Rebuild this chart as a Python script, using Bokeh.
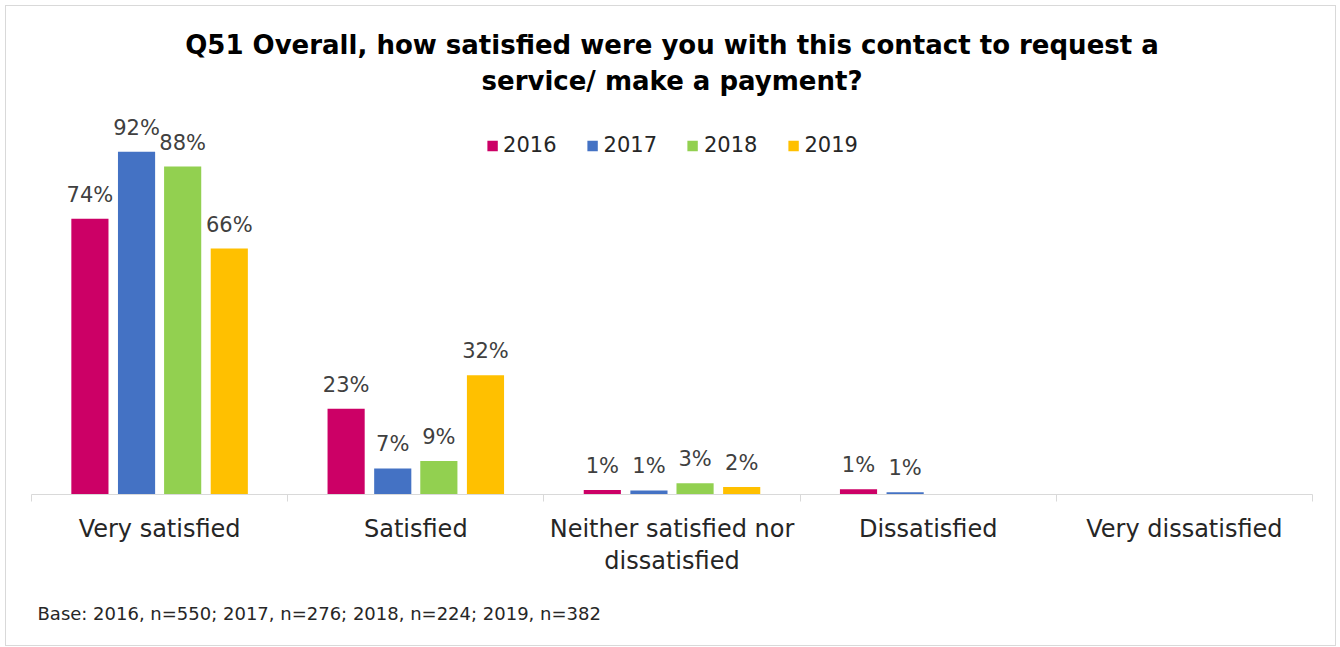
from bokeh.plotting import figure
from bokeh.models import (ColumnDataSource, Range1d, LinearAxis, FixedTicker, Legend,
                          LegendItem, Title, LabelSet)
from bokeh.transform import dodge
from bokeh.core.properties import value
from bokeh.embed import file_html
from bokeh.resources import INLINE

# ---- data ----
categories = ["Very satisfied", "Satisfied", "Neither satisfied nor dissatisfied",
              "Dissatisfied", "Very dissatisfied"]
category_labels = ["Very satisfied", "Satisfied", "Neither satisfied nor\ndissatisfied",
                   "Dissatisfied", "Very dissatisfied"]
years = ["2016", "2017", "2018", "2019"]
v2016 = [74, 23, 1.2, 1.4, 0]
v2017 = [92, 7, 1.1, 0.6, 0]
v2018 = [88, 9, 3, 0, 0]
v2019 = [66, 32, 2, 0, 0]
series = [v2016, v2017, v2018, v2019]
colors = ["#CC0066", "#4472C4", "#92D050", "#FFC000"]
offsets = [-0.272, -0.09, 0.09, 0.272]
title_line1 = "Q51 Overall, how satisfied were you with this contact to request a"
title_line2 = "service/ make a payment?"
base_note = "Base: 2016, n=550; 2017, n=276; 2018, n=224; 2019, n=382"

FONT = "DejaVu Sans"
n = len(categories)
centers = [i + 0.5 for i in range(n)]
bounds = list(range(n + 1))

p = figure(width=1331, height=641, output_backend="svg", toolbar_location=None,
           x_range=Range1d(0, n), y_range=Range1d(0, 106),
           x_axis_location=None, y_axis_location=None,
           min_border_left=25, min_border_right=25, min_border_top=93, min_border_bottom=153)
p.xgrid.visible = False
p.ygrid.visible = False
p.outline_line_color = None
p.background_fill_color = "white"
p.border_fill_color = "white"
p.styles = {"border": "1px solid #d9d9d9", "margin-left": "5px", "margin-top": "5px"}

t2 = Title(text=title_line2, align="center", text_font=FONT, text_font_size="26px",
           text_font_style="bold", text_color="#000000", standoff=8)
t1 = Title(text=title_line1, align="center", text_font=FONT, text_font_size="26px",
           text_font_style="bold", text_color="#000000", standoff=0)
p.add_layout(t2, "above")
p.add_layout(t1, "above")

renderers = []
for yr, vals, col, off in zip(years, series, colors, offsets):
    src = ColumnDataSource(dict(pos=centers, val=vals))
    r = p.vbar(x=dodge("pos", off), top="val", width=0.145, source=src,
               fill_color=col, line_color=None)
    renderers.append(r)
    keep = [i for i, v in enumerate(vals) if v > 0]
    lab_src = ColumnDataSource(dict(pos=[centers[i] for i in keep],
                                    val=[vals[i] for i in keep],
                                    lab=[f"{round(vals[i])}%" for i in keep]))
    p.add_layout(LabelSet(x=dodge("pos", off), y="val", text="lab", source=lab_src,
                          text_align="center", text_baseline="middle", y_offset=24,
                          text_font=value(FONT), text_font_size="21px", text_color="#404040"))

legend = Legend(items=[LegendItem(label=y, renderers=[r]) for y, r in zip(years, renderers)],
                orientation="horizontal", location="top_center",
                glyph_width=13, glyph_height=13, label_standoff=5, spacing=29,
                label_text_font=FONT, label_text_font_size="21px", label_text_color="#262626",
                border_line_color=None, background_fill_alpha=0, padding=0, margin=34)
p.add_layout(legend, "center")

cat_axis = LinearAxis(ticker=FixedTicker(ticks=centers, minor_ticks=bounds),
                      axis_line_color="#d9d9d9", axis_line_width=1,
                      major_tick_line_color=None, major_tick_out=0, major_tick_in=0,
                      minor_tick_line_color="#d9d9d9", minor_tick_out=7, minor_tick_in=0,
                      major_label_standoff=13,
                      major_label_text_font=FONT, major_label_text_font_size="24px",
                      major_label_text_color="#262626", major_label_text_line_height=1.15,
                      major_label_overrides={c: lab for c, lab in zip(centers, category_labels)})
p.add_layout(cat_axis, "below")

note = Title(text=base_note, align="left", text_font=FONT, text_font_size="18px",
             text_font_style="normal", text_color="#262626", offset=6, standoff=47)
p.add_layout(note, "below")

open("out.html", "w").write(file_html(p, INLINE))
